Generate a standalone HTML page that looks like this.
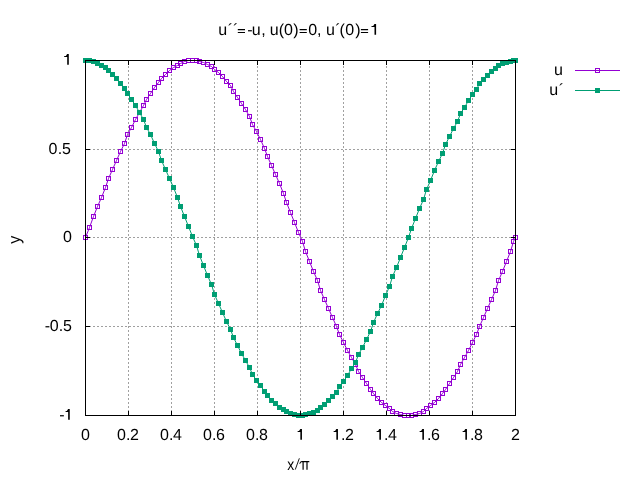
<!DOCTYPE html><html><head><meta charset="utf-8"><style>html,body{margin:0;padding:0;background:#fff;width:640px;height:480px;overflow:hidden}svg{display:block}text{font-family:"Liberation Sans",sans-serif;font-size:16px;fill:#000;text-rendering:geometricPrecision}svg{will-change:transform}</style></head><body>
<svg width="640" height="480" viewBox="0 0 640 480">
<rect width="640" height="480" fill="#fff"/>
<path d="M128.5,416V60 M171.5,416V60 M214.5,416V60 M257.5,416V60 M300.5,416V60 M343.5,416V60 M386.5,416V60 M429.5,416V60 M472.5,416V60 M85,149.5H516 M85,237.5H516 M85,326.5H516" stroke="#a0a0a0" stroke-width="1" stroke-dasharray="2 2" fill="none"/>
<path d="M85.5,237.5 L89.5,227.5 L93.5,216.5 L97.5,206.5 L101.5,197.5 L105.5,187.5 L108.5,178.5 L112.5,169.5 L116.5,160.5 L120.5,151.5 L124.5,143.5 L127.5,134.5 L131.5,127.5 L135.5,119.5 L139.5,112.5 L143.5,105.5 L146.5,99.5 L150.5,93.5 L154.5,87.5 L158.5,82.5 L161.5,78.5 L165.5,74.5 L169.5,70.5 L173.5,67.5 L177.5,65.5 L180.5,63.5 L184.5,61.5 L188.5,60.5 L192.5,60.5 L196.5,60.5 L199.5,61.5 L203.5,62.5 L207.5,64.5 L211.5,66.5 L214.5,69.5 L218.5,72.5 L222.5,76.5 L226.5,81.5 L230.5,85.5 L233.5,91.5 L237.5,97.5 L241.5,103.5 L245.5,109.5 L249.5,116.5 L252.5,124.5 L256.5,131.5 L260.5,139.5 L264.5,148.5 L267.5,156.5 L271.5,165.5 L275.5,174.5 L279.5,183.5 L283.5,193.5 L286.5,202.5 L290.5,212.5 L294.5,222.5 L298.5,232.5 L302.5,241.5 L305.5,251.5 L309.5,261.5 L313.5,271.5 L317.5,280.5 L320.5,290.5 L324.5,299.5 L328.5,308.5 L332.5,317.5 L336.5,326.5 L339.5,334.5 L343.5,342.5 L347.5,350.5 L351.5,357.5 L355.5,364.5 L358.5,371.5 L362.5,377.5 L366.5,383.5 L370.5,389.5 L373.5,393.5 L377.5,398.5 L381.5,402.5 L385.5,405.5 L389.5,408.5 L392.5,411.5 L396.5,413.5 L400.5,414.5 L404.5,415.5 L408.5,415.5 L411.5,415.5 L415.5,414.5 L419.5,413.5 L423.5,411.5 L426.5,408.5 L430.5,405.5 L434.5,402.5 L438.5,398.5 L442.5,393.5 L445.5,389.5 L449.5,383.5 L453.5,377.5 L457.5,371.5 L460.5,364.5 L464.5,357.5 L468.5,350.5 L472.5,342.5 L476.5,334.5 L479.5,326.5 L483.5,317.5 L487.5,308.5 L491.5,299.5 L495.5,290.5 L498.5,280.5 L502.5,271.5 L506.5,261.5 L510.5,251.5 L513.5,241.5 L515.5,237.5" stroke="#9400d3" stroke-width="1" fill="none"/><path d="M83.0,235.0h5v5h-5zM84.0,236.0v3h3v-3zM87.0,225.0h5v5h-5zM88.0,226.0v3h3v-3zM91.0,214.0h5v5h-5zM92.0,215.0v3h3v-3zM95.0,204.0h5v5h-5zM96.0,205.0v3h3v-3zM99.0,195.0h5v5h-5zM100.0,196.0v3h3v-3zM103.0,185.0h5v5h-5zM104.0,186.0v3h3v-3zM106.0,176.0h5v5h-5zM107.0,177.0v3h3v-3zM110.0,167.0h5v5h-5zM111.0,168.0v3h3v-3zM114.0,158.0h5v5h-5zM115.0,159.0v3h3v-3zM118.0,149.0h5v5h-5zM119.0,150.0v3h3v-3zM122.0,141.0h5v5h-5zM123.0,142.0v3h3v-3zM125.0,132.0h5v5h-5zM126.0,133.0v3h3v-3zM129.0,125.0h5v5h-5zM130.0,126.0v3h3v-3zM133.0,117.0h5v5h-5zM134.0,118.0v3h3v-3zM137.0,110.0h5v5h-5zM138.0,111.0v3h3v-3zM141.0,103.0h5v5h-5zM142.0,104.0v3h3v-3zM144.0,97.0h5v5h-5zM145.0,98.0v3h3v-3zM148.0,91.0h5v5h-5zM149.0,92.0v3h3v-3zM152.0,85.0h5v5h-5zM153.0,86.0v3h3v-3zM156.0,80.0h5v5h-5zM157.0,81.0v3h3v-3zM159.0,76.0h5v5h-5zM160.0,77.0v3h3v-3zM163.0,72.0h5v5h-5zM164.0,73.0v3h3v-3zM167.0,68.0h5v5h-5zM168.0,69.0v3h3v-3zM171.0,65.0h5v5h-5zM172.0,66.0v3h3v-3zM175.0,63.0h5v5h-5zM176.0,64.0v3h3v-3zM178.0,61.0h5v5h-5zM179.0,62.0v3h3v-3zM182.0,59.0h5v5h-5zM183.0,60.0v3h3v-3zM186.0,58.0h5v5h-5zM187.0,59.0v3h3v-3zM190.0,58.0h5v5h-5zM191.0,59.0v3h3v-3zM194.0,58.0h5v5h-5zM195.0,59.0v3h3v-3zM197.0,59.0h5v5h-5zM198.0,60.0v3h3v-3zM201.0,60.0h5v5h-5zM202.0,61.0v3h3v-3zM205.0,62.0h5v5h-5zM206.0,63.0v3h3v-3zM209.0,64.0h5v5h-5zM210.0,65.0v3h3v-3zM212.0,67.0h5v5h-5zM213.0,68.0v3h3v-3zM216.0,70.0h5v5h-5zM217.0,71.0v3h3v-3zM220.0,74.0h5v5h-5zM221.0,75.0v3h3v-3zM224.0,79.0h5v5h-5zM225.0,80.0v3h3v-3zM228.0,83.0h5v5h-5zM229.0,84.0v3h3v-3zM231.0,89.0h5v5h-5zM232.0,90.0v3h3v-3zM235.0,95.0h5v5h-5zM236.0,96.0v3h3v-3zM239.0,101.0h5v5h-5zM240.0,102.0v3h3v-3zM243.0,107.0h5v5h-5zM244.0,108.0v3h3v-3zM247.0,114.0h5v5h-5zM248.0,115.0v3h3v-3zM250.0,122.0h5v5h-5zM251.0,123.0v3h3v-3zM254.0,129.0h5v5h-5zM255.0,130.0v3h3v-3zM258.0,137.0h5v5h-5zM259.0,138.0v3h3v-3zM262.0,146.0h5v5h-5zM263.0,147.0v3h3v-3zM265.0,154.0h5v5h-5zM266.0,155.0v3h3v-3zM269.0,163.0h5v5h-5zM270.0,164.0v3h3v-3zM273.0,172.0h5v5h-5zM274.0,173.0v3h3v-3zM277.0,181.0h5v5h-5zM278.0,182.0v3h3v-3zM281.0,191.0h5v5h-5zM282.0,192.0v3h3v-3zM284.0,200.0h5v5h-5zM285.0,201.0v3h3v-3zM288.0,210.0h5v5h-5zM289.0,211.0v3h3v-3zM292.0,220.0h5v5h-5zM293.0,221.0v3h3v-3zM296.0,230.0h5v5h-5zM297.0,231.0v3h3v-3zM300.0,239.0h5v5h-5zM301.0,240.0v3h3v-3zM303.0,249.0h5v5h-5zM304.0,250.0v3h3v-3zM307.0,259.0h5v5h-5zM308.0,260.0v3h3v-3zM311.0,269.0h5v5h-5zM312.0,270.0v3h3v-3zM315.0,278.0h5v5h-5zM316.0,279.0v3h3v-3zM318.0,288.0h5v5h-5zM319.0,289.0v3h3v-3zM322.0,297.0h5v5h-5zM323.0,298.0v3h3v-3zM326.0,306.0h5v5h-5zM327.0,307.0v3h3v-3zM330.0,315.0h5v5h-5zM331.0,316.0v3h3v-3zM334.0,324.0h5v5h-5zM335.0,325.0v3h3v-3zM337.0,332.0h5v5h-5zM338.0,333.0v3h3v-3zM341.0,340.0h5v5h-5zM342.0,341.0v3h3v-3zM345.0,348.0h5v5h-5zM346.0,349.0v3h3v-3zM349.0,355.0h5v5h-5zM350.0,356.0v3h3v-3zM353.0,362.0h5v5h-5zM354.0,363.0v3h3v-3zM356.0,369.0h5v5h-5zM357.0,370.0v3h3v-3zM360.0,375.0h5v5h-5zM361.0,376.0v3h3v-3zM364.0,381.0h5v5h-5zM365.0,382.0v3h3v-3zM368.0,387.0h5v5h-5zM369.0,388.0v3h3v-3zM371.0,391.0h5v5h-5zM372.0,392.0v3h3v-3zM375.0,396.0h5v5h-5zM376.0,397.0v3h3v-3zM379.0,400.0h5v5h-5zM380.0,401.0v3h3v-3zM383.0,403.0h5v5h-5zM384.0,404.0v3h3v-3zM387.0,406.0h5v5h-5zM388.0,407.0v3h3v-3zM390.0,409.0h5v5h-5zM391.0,410.0v3h3v-3zM394.0,411.0h5v5h-5zM395.0,412.0v3h3v-3zM398.0,412.0h5v5h-5zM399.0,413.0v3h3v-3zM402.0,413.0h5v5h-5zM403.0,414.0v3h3v-3zM406.0,413.0h5v5h-5zM407.0,414.0v3h3v-3zM409.0,413.0h5v5h-5zM410.0,414.0v3h3v-3zM413.0,412.0h5v5h-5zM414.0,413.0v3h3v-3zM417.0,411.0h5v5h-5zM418.0,412.0v3h3v-3zM421.0,409.0h5v5h-5zM422.0,410.0v3h3v-3zM424.0,406.0h5v5h-5zM425.0,407.0v3h3v-3zM428.0,403.0h5v5h-5zM429.0,404.0v3h3v-3zM432.0,400.0h5v5h-5zM433.0,401.0v3h3v-3zM436.0,396.0h5v5h-5zM437.0,397.0v3h3v-3zM440.0,391.0h5v5h-5zM441.0,392.0v3h3v-3zM443.0,387.0h5v5h-5zM444.0,388.0v3h3v-3zM447.0,381.0h5v5h-5zM448.0,382.0v3h3v-3zM451.0,375.0h5v5h-5zM452.0,376.0v3h3v-3zM455.0,369.0h5v5h-5zM456.0,370.0v3h3v-3zM458.0,362.0h5v5h-5zM459.0,363.0v3h3v-3zM462.0,355.0h5v5h-5zM463.0,356.0v3h3v-3zM466.0,348.0h5v5h-5zM467.0,349.0v3h3v-3zM470.0,340.0h5v5h-5zM471.0,341.0v3h3v-3zM474.0,332.0h5v5h-5zM475.0,333.0v3h3v-3zM477.0,324.0h5v5h-5zM478.0,325.0v3h3v-3zM481.0,315.0h5v5h-5zM482.0,316.0v3h3v-3zM485.0,306.0h5v5h-5zM486.0,307.0v3h3v-3zM489.0,297.0h5v5h-5zM490.0,298.0v3h3v-3zM493.0,288.0h5v5h-5zM494.0,289.0v3h3v-3zM496.0,278.0h5v5h-5zM497.0,279.0v3h3v-3zM500.0,269.0h5v5h-5zM501.0,270.0v3h3v-3zM504.0,259.0h5v5h-5zM505.0,260.0v3h3v-3zM508.0,249.0h5v5h-5zM509.0,250.0v3h3v-3zM511.0,239.0h5v5h-5zM512.0,240.0v3h3v-3zM513.0,235.0h5v5h-5zM514.0,236.0v3h3v-3z" fill="#9400d3"/>
<path d="M85.5,60.5 L89.5,60.5 L93.5,61.5 L97.5,63.5 L101.5,65.5 L105.5,67.5 L108.5,70.5 L112.5,74.5 L116.5,78.5 L120.5,83.5 L124.5,88.5 L127.5,93.5 L131.5,99.5 L135.5,105.5 L139.5,112.5 L143.5,119.5 L146.5,127.5 L150.5,134.5 L154.5,143.5 L158.5,151.5 L161.5,160.5 L165.5,169.5 L169.5,178.5 L173.5,187.5 L177.5,197.5 L180.5,206.5 L184.5,216.5 L188.5,226.5 L192.5,236.5 L196.5,245.5 L199.5,255.5 L203.5,265.5 L207.5,275.5 L211.5,284.5 L214.5,294.5 L218.5,303.5 L222.5,312.5 L226.5,321.5 L230.5,329.5 L233.5,337.5 L237.5,345.5 L241.5,353.5 L245.5,360.5 L249.5,367.5 L252.5,374.5 L256.5,380.5 L260.5,385.5 L264.5,391.5 L267.5,395.5 L271.5,400.5 L275.5,403.5 L279.5,407.5 L283.5,409.5 L286.5,411.5 L290.5,413.5 L294.5,414.5 L298.5,415.5 L302.5,415.5 L305.5,414.5 L309.5,413.5 L313.5,412.5 L317.5,410.5 L320.5,407.5 L324.5,404.5 L328.5,400.5 L332.5,396.5 L336.5,392.5 L339.5,386.5 L343.5,381.5 L347.5,375.5 L351.5,368.5 L355.5,362.5 L358.5,354.5 L362.5,347.5 L366.5,339.5 L370.5,331.5 L373.5,322.5 L377.5,313.5 L381.5,305.5 L385.5,295.5 L389.5,286.5 L392.5,276.5 L396.5,267.5 L400.5,257.5 L404.5,247.5 L408.5,237.5 L411.5,228.5 L415.5,218.5 L419.5,208.5 L423.5,199.5 L426.5,189.5 L430.5,180.5 L434.5,170.5 L438.5,161.5 L442.5,153.5 L445.5,144.5 L449.5,136.5 L453.5,128.5 L457.5,121.5 L460.5,113.5 L464.5,107.5 L468.5,100.5 L472.5,94.5 L476.5,89.5 L479.5,83.5 L483.5,79.5 L487.5,75.5 L491.5,71.5 L495.5,68.5 L498.5,65.5 L502.5,63.5 L506.5,62.5 L510.5,61.5 L513.5,60.5 L515.5,60.5" stroke="#009e73" stroke-width="1" fill="none"/><path d="M83.0,58.0h5v5h-5zM87.0,58.0h5v5h-5zM91.0,59.0h5v5h-5zM95.0,61.0h5v5h-5zM99.0,63.0h5v5h-5zM103.0,65.0h5v5h-5zM106.0,68.0h5v5h-5zM110.0,72.0h5v5h-5zM114.0,76.0h5v5h-5zM118.0,81.0h5v5h-5zM122.0,86.0h5v5h-5zM125.0,91.0h5v5h-5zM129.0,97.0h5v5h-5zM133.0,103.0h5v5h-5zM137.0,110.0h5v5h-5zM141.0,117.0h5v5h-5zM144.0,125.0h5v5h-5zM148.0,132.0h5v5h-5zM152.0,141.0h5v5h-5zM156.0,149.0h5v5h-5zM159.0,158.0h5v5h-5zM163.0,167.0h5v5h-5zM167.0,176.0h5v5h-5zM171.0,185.0h5v5h-5zM175.0,195.0h5v5h-5zM178.0,204.0h5v5h-5zM182.0,214.0h5v5h-5zM186.0,224.0h5v5h-5zM190.0,234.0h5v5h-5zM194.0,243.0h5v5h-5zM197.0,253.0h5v5h-5zM201.0,263.0h5v5h-5zM205.0,273.0h5v5h-5zM209.0,282.0h5v5h-5zM212.0,292.0h5v5h-5zM216.0,301.0h5v5h-5zM220.0,310.0h5v5h-5zM224.0,319.0h5v5h-5zM228.0,327.0h5v5h-5zM231.0,335.0h5v5h-5zM235.0,343.0h5v5h-5zM239.0,351.0h5v5h-5zM243.0,358.0h5v5h-5zM247.0,365.0h5v5h-5zM250.0,372.0h5v5h-5zM254.0,378.0h5v5h-5zM258.0,383.0h5v5h-5zM262.0,389.0h5v5h-5zM265.0,393.0h5v5h-5zM269.0,398.0h5v5h-5zM273.0,401.0h5v5h-5zM277.0,405.0h5v5h-5zM281.0,407.0h5v5h-5zM284.0,409.0h5v5h-5zM288.0,411.0h5v5h-5zM292.0,412.0h5v5h-5zM296.0,413.0h5v5h-5zM300.0,413.0h5v5h-5zM303.0,412.0h5v5h-5zM307.0,411.0h5v5h-5zM311.0,410.0h5v5h-5zM315.0,408.0h5v5h-5zM318.0,405.0h5v5h-5zM322.0,402.0h5v5h-5zM326.0,398.0h5v5h-5zM330.0,394.0h5v5h-5zM334.0,390.0h5v5h-5zM337.0,384.0h5v5h-5zM341.0,379.0h5v5h-5zM345.0,373.0h5v5h-5zM349.0,366.0h5v5h-5zM353.0,360.0h5v5h-5zM356.0,352.0h5v5h-5zM360.0,345.0h5v5h-5zM364.0,337.0h5v5h-5zM368.0,329.0h5v5h-5zM371.0,320.0h5v5h-5zM375.0,311.0h5v5h-5zM379.0,303.0h5v5h-5zM383.0,293.0h5v5h-5zM387.0,284.0h5v5h-5zM390.0,274.0h5v5h-5zM394.0,265.0h5v5h-5zM398.0,255.0h5v5h-5zM402.0,245.0h5v5h-5zM406.0,235.0h5v5h-5zM409.0,226.0h5v5h-5zM413.0,216.0h5v5h-5zM417.0,206.0h5v5h-5zM421.0,197.0h5v5h-5zM424.0,187.0h5v5h-5zM428.0,178.0h5v5h-5zM432.0,168.0h5v5h-5zM436.0,159.0h5v5h-5zM440.0,151.0h5v5h-5zM443.0,142.0h5v5h-5zM447.0,134.0h5v5h-5zM451.0,126.0h5v5h-5zM455.0,119.0h5v5h-5zM458.0,111.0h5v5h-5zM462.0,105.0h5v5h-5zM466.0,98.0h5v5h-5zM470.0,92.0h5v5h-5zM474.0,87.0h5v5h-5zM477.0,81.0h5v5h-5zM481.0,77.0h5v5h-5zM485.0,73.0h5v5h-5zM489.0,69.0h5v5h-5zM493.0,66.0h5v5h-5zM496.0,63.0h5v5h-5zM500.0,61.0h5v5h-5zM504.0,60.0h5v5h-5zM508.0,59.0h5v5h-5zM511.0,58.0h5v5h-5zM513.0,58.0h5v5h-5z" fill="#009e73"/>
<path d="M85.5,416V411M85.5,60V65 M128.5,416V411M128.5,60V65 M171.5,416V411M171.5,60V65 M214.5,416V411M214.5,60V65 M257.5,416V411M257.5,60V65 M300.5,416V411M300.5,60V65 M343.5,416V411M343.5,60V65 M386.5,416V411M386.5,60V65 M429.5,416V411M429.5,60V65 M472.5,416V411M472.5,60V65 M515.5,416V411M515.5,60V65 M85,60.5H90M516,60.5H511 M85,149.5H90M516,149.5H511 M85,237.5H90M516,237.5H511 M85,326.5H90M516,326.5H511 M85,415.5H90M516,415.5H511" stroke="#000" stroke-width="1" fill="none"/>
<rect x="85.5" y="60.5" width="430" height="355" stroke="#000" stroke-width="1" fill="none"/>
<text x="81.00" y="439.80">0</text>
<text x="117.00" y="439.80">0</text><text x="126.00" y="439.80">.</text><text x="130.00" y="439.80">2</text>
<text x="160.00" y="439.80">0</text><text x="169.00" y="439.80">.</text><text x="173.00" y="439.80">4</text>
<text x="203.00" y="439.80">0</text><text x="212.00" y="439.80">.</text><text x="216.00" y="439.80">6</text>
<text x="246.00" y="439.80">0</text><text x="255.00" y="439.80">.</text><text x="259.00" y="439.80">8</text>
<path d="M301.95,439.80V429.05H300.30L299.05,431.00H297.65V432.00H300.35V439.80Z" fill="#000"/>
<text x="341.00" y="439.80">.</text><text x="345.00" y="439.80">2</text><path d="M337.95,439.80V429.05H336.30L335.05,431.00H333.65V432.00H336.35V439.80Z" fill="#000"/>
<text x="384.00" y="439.80">.</text><text x="388.00" y="439.80">4</text><path d="M380.95,439.80V429.05H379.30L378.05,431.00H376.65V432.00H379.35V439.80Z" fill="#000"/>
<text x="427.00" y="439.80">.</text><text x="431.00" y="439.80">6</text><path d="M423.95,439.80V429.05H422.30L421.05,431.00H419.65V432.00H422.35V439.80Z" fill="#000"/>
<text x="470.00" y="439.80">.</text><text x="474.00" y="439.80">8</text><path d="M466.95,439.80V429.05H465.30L464.05,431.00H462.65V432.00H465.35V439.80Z" fill="#000"/>
<text x="511.00" y="439.80">2</text>
<path d="M68.80,64.80V54.05H67.15L65.90,56.00H64.20V57.00H67.20V64.80Z" fill="#000"/>
<text x="48.55" y="153.75">0</text><text x="57.83" y="153.75">.</text><text x="62.02" y="153.75">5</text>
<text x="63.00" y="241.75">0</text>
<text x="44.79" y="330.90">-</text><text x="49.80" y="330.90">0</text><text x="58.83" y="330.90">.</text><text x="62.97" y="330.90">5</text>
<text x="59.14" y="419.80">-</text><path d="M69.75,419.80V409.05H68.10L66.85,411.00H65.60V412.00H68.15V419.80Z" fill="#000"/>
<text x="218.26" y="34.75">u</text><text x="227.78" y="35.15">´</text><text x="233.03" y="35.15">´</text><text x="247.24" y="34.75">-</text><text x="251.81" y="34.75">u</text><text x="261.28" y="34.75">,</text><text x="269.86" y="34.75">u</text><text x="278.84" y="34.75">(</text><text x="284.05" y="34.75">0</text><text x="293.24" y="34.75">)</text><text x="308.15" y="34.75">0</text><text x="316.98" y="34.75">,</text><text x="325.96" y="34.75">u</text><text x="335.13" y="35.15">´</text><text x="339.59" y="34.75">(</text><text x="345.35" y="34.75">0</text><text x="355.29" y="34.75">)</text><path d="M237.80,29.00h7.2v1.2h-7.2zM237.80,31.90h7.2v1.2h-7.2z" fill="#000"/><path d="M299.60,29.00h7.2v1.2h-7.2zM299.60,31.90h7.2v1.2h-7.2z" fill="#000"/><path d="M360.90,29.00h7.2v1.2h-7.2zM360.90,31.90h7.2v1.2h-7.2z" fill="#000"/><path d="M376.10,34.75V24.00H374.45L373.20,25.95H371.50V26.95H374.50V34.75Z" fill="#000"/>
<text transform="translate(287.27,469.75) scale(0.87,1)">x</text>
<path d="M299.35,458.3L295.25,469.6" stroke="#000" stroke-width="0.9" fill="none"/>
<path d="M299.2,463.7C299.8,462.2 300.6,461 302,461H309.3V462.3H301.6C301,462.3 300.6,462.8 300.3,463.8Z M302.5,462h1.2v7.75h-1.2Z M306.4,462h1.2v7.75h-1.2Z" fill="#000"/>
<text transform="translate(19.9,243.7) rotate(-90) scale(1,1.05)">y</text>
<text x="554.01" y="75.00">u</text>
<text x="549.21" y="94.80">u</text><text x="558.78" y="95.20">´</text>
<path d="M575,70.5H620" stroke="#9400d3" stroke-width="1"/><path d="M595,68h5v5h-5zM596,69v3h3v-3z" fill="#9400d3"/>
<path d="M575,90.5H620" stroke="#009e73" stroke-width="1"/><path d="M595,88h5v5h-5z" fill="#009e73"/>
</svg></body></html>
